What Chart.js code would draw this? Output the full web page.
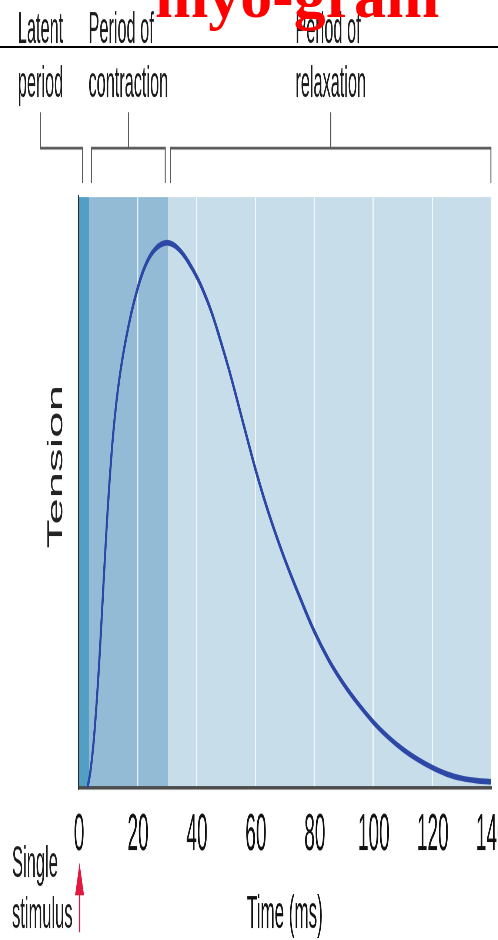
<!DOCTYPE html>
<html lang="en">
<head>
    <meta charset="UTF-8">
    <title>myo-gram</title>
    <script src="https://cdn.jsdelivr.net/npm/chart.js"></script>
    <style>
        html, body { margin: 0; padding: 0; background: #fff; overflow: hidden; }
        #stage { position: relative; width: 498px; height: 940px; overflow: hidden; }
        /* the original figure is stretched vertically, so the chart is drawn short and scaled up */
        #squash { position: absolute; left: 0; top: 0; width: 498px; height: 348px;
                  transform-origin: 0 0; transform: scaleY(2.70115); }
        #rule { position: absolute; left: 0; top: 46px; width: 498px; height: 2px; background: #000; }
        #title { position: absolute; left: 155px; top: -36px; color: #ff0000; white-space: nowrap;
                 font: bold 64px/64px "Liberation Serif", "Times New Roman", serif; }
    </style>
</head>
<body>
<div id="stage">
    <div id="squash"><canvas id="myogram" width="498" height="348"></canvas></div>
    <div id="rule"></div>
    <div id="title">myo-gram</div>
</div>

<script>
// ---------------- data ----------------
// time after the stimulus (ms) and muscle tension (% of the plot height)
const timeMs  = [3, 4, 5, 6, 7, 8, 9, 10, 11, 12, 13, 14, 15, 16, 18, 20, 22, 24, 26, 28, 30,
                 32, 34, 36, 38, 40, 42, 45, 48, 51, 54, 57, 60, 63, 66, 70, 75, 80, 85, 90,
                 95, 100, 105, 110, 115, 120, 125, 130, 135, 140];
const tension = [0, 2.8, 7.2, 13.5, 21.2, 30.2, 39.5, 48, 55.3, 61.3, 66, 69.8, 73, 75.8, 80.6, 84.5, 87.6, 89.8, 91.2, 92, 92.3,
                 92, 91.2, 90, 88.4, 86.6, 84.5, 80.7, 76, 70.9, 65.3, 59.6, 54, 48.9, 44.3, 38.7, 32.4, 26.5, 21.6, 17.6,
                 14.2, 11.2, 8.7, 6.6, 4.9, 3.5, 2.4, 1.7, 1.3, 1.1];

// the three periods of the twitch (ms)
const phaseLabels = [['Latent', 'period'], ['Period of', 'contraction'], ['Period of', 'relaxation']];
const phaseStart  = [0, 3.5, 30.3];
const phaseEnd    = [3.5, 30.3, 140];

const xTickStep = 20;
const xTitle = 'Time (ms)';
const yTitle = 'Tension';
const stimulusLabel = ['Single', 'stimulus'];

// ---------------- style ----------------
const FONT = '"Liberation Sans", Arial, sans-serif';
const phaseColors = ['#529fc5', '#93bbd6', '#c7dde9'];

// bands behind the curve
const backdrop = {
    id: 'backdrop',
    beforeDraw(chart) {
        const {ctx, chartArea: a, scales: {x}} = chart;
        ctx.save();
        phaseStart.forEach((s, i) => {
            const x0 = x.getPixelForValue(s);
            const x1 = x.getPixelForValue(phaseEnd[i]);
            ctx.fillStyle = phaseColors[i];
            ctx.fillRect(x0, a.top, x1 - x0, a.bottom - a.top);
        });
        ctx.restore();
    }
};

// tick labels, axis titles, brackets, period names, stimulus arrow
const notes = {
    id: 'notes',
    afterDraw(chart) {
        const {ctx, chartArea: a, scales: {x}} = chart;
        const yStem = 41.5, yBar = 54.8, yLeg = 67.7;
        const gap = 0.9;
        ctx.save();

        // x tick labels (the last one runs off the canvas, as in the figure)
        ctx.font = '19px ' + FONT;
        ctx.fillStyle = '#111';
        ctx.textAlign = 'center';
        ctx.textBaseline = 'alphabetic';
        x.ticks.forEach(t => ctx.fillText(String(t.value), x.getPixelForValue(t.value) + 0.5, 314.7));

        ctx.font = '17px ' + FONT;
        ctx.fillText(xTitle, (a.left + a.right) / 2, 343.6);

        ctx.font = '16.3px ' + FONT;
        ctx.textAlign = 'left';
        phaseStart.forEach((s, i) => {
            let x0, x1, stem;
            ctx.beginPath();
            if (i === 0) {
                stem = a.left - 38;
                x1 = x.getPixelForValue(phaseEnd[0] - 2.1);
                ctx.moveTo(stem, yStem);
                ctx.lineTo(stem, yBar);
                ctx.lineTo(x1, yBar);
                ctx.lineTo(x1, yLeg);
            } else {
                x0 = x.getPixelForValue(s + gap);
                x1 = i === phaseStart.length - 1 ? x.getPixelForValue(phaseEnd[i]) - 0.3
                                                 : x.getPixelForValue(phaseEnd[i] - gap);
                stem = (x0 + x1) / 2;
                ctx.moveTo(x0, yLeg);
                ctx.lineTo(x0, yBar);
                ctx.lineTo(x1, yBar);
                ctx.lineTo(x1, yLeg);
                ctx.moveTo(stem, yBar);
                ctx.lineTo(stem, yStem);
            }
            ctx.strokeStyle = '#5a5a5a';
            ctx.lineWidth = 1;
            ctx.stroke();

            const lines = phaseLabels[i];
            const w = Math.max(...lines.map(t => ctx.measureText(t).width));
            ctx.fillStyle = '#1c1c1c';
            ctx.fillText(lines[0], stem - w / 2, 15.9);
            ctx.fillText(lines[1], stem - w / 2, 35.9);
        });

        // single stimulus at t = 0
        const ax = x.getPixelForValue(0) + 1;
        ctx.fillStyle = '#e5163f';
        ctx.beginPath();
        ctx.moveTo(ax, 319.3);
        ctx.lineTo(ax + 4.5, 331.3);
        ctx.lineTo(ax - 4.5, 331.3);
        ctx.closePath();
        ctx.fill();
        ctx.strokeStyle = '#e5163f';
        ctx.lineWidth = 1.4;
        ctx.beginPath();
        ctx.moveTo(ax, 330);
        ctx.lineTo(ax, 345);
        ctx.stroke();

        ctx.font = '16.5px ' + FONT;
        ctx.fillStyle = '#1c1c1c';
        ctx.fillText(stimulusLabel[0], 12, 324.7);
        ctx.fillText(stimulusLabel[1], 12, 343.6);

        // rotated y title, fitted to the stretched height
        ctx.font = '21px ' + FONT;
        const tw = ctx.measureText(yTitle).width;
        ctx.translate(54.5, 172.7);
        ctx.rotate(-Math.PI / 2);
        ctx.scale(60.4 / tw, 1);
        ctx.textAlign = 'center';
        ctx.fillStyle = '#222';
        ctx.fillText(yTitle, 0, 7.5);
        ctx.restore();
    }
};

new Chart(document.getElementById('myogram'), {
    type: 'line',
    data: {
        datasets: [{
            data: timeMs.map((t, i) => ({x: t, y: tension[i]})),
            borderColor: '#2c47a5',
            borderWidth: 2.1,
            pointRadius: 0,
            fill: false,
            tension: 0.4
        }]
    },
    options: {
        responsive: false,
        animation: false,
        devicePixelRatio: 2.702,
        layout: { padding: {left: 78.5, right: 7, top: 72.93, bottom: 56.27} },
        plugins: { legend: {display: false}, tooltip: {enabled: false} },
        scales: {
            x: {
                type: 'linear', min: 0, max: 140,
                ticks: { stepSize: xTickStep, display: false },
                grid: {
                    drawTicks: false, lineWidth: 1.3,
                    color: c => (c.tick && (c.tick.value === 0 || c.tick.value === 140)) ? 'rgba(0,0,0,0)' : 'rgba(255,255,255,0.75)'
                },
                border: { display: true, color: '#4d4d4d', width: 1.3 }
            },
            y: {
                min: 0, max: 100,
                ticks: { display: false },
                grid: { display: false, drawTicks: false },
                border: { display: true, color: '#2b2b2b', width: 1.5 }
            }
        }
    },
    plugins: [backdrop, notes]
});
</script>
</body>
</html>
